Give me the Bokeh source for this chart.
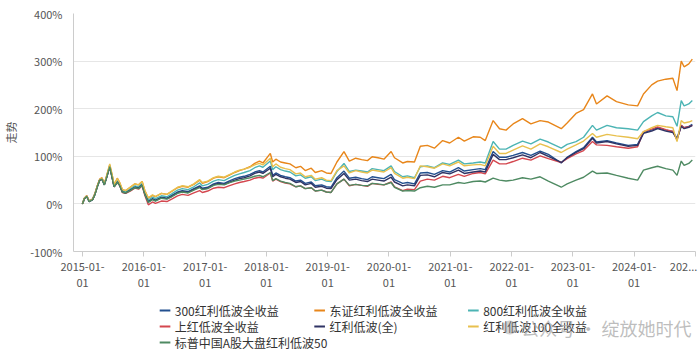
import pandas as pd
from bokeh.plotting import figure
from bokeh.layouts import column
from bokeh.models import FixedTicker, Range1d
from bokeh.core.properties import value
from bokeh.embed import file_html
from bokeh.resources import INLINE

dates = ["2014-12-31", "2015-01-12", "2015-01-26", "2015-02-09", "2015-03-02", "2015-03-16",
         "2015-03-30", "2015-04-13", "2015-04-27", "2015-05-11", "2015-05-25", "2015-06-12",
         "2015-06-30", "2015-07-08", "2015-07-27", "2015-08-10", "2015-08-26", "2015-09-15",
         "2015-10-12", "2015-11-09", "2015-12-01", "2015-12-22", "2016-01-07", "2016-01-28",
         "2016-02-22", "2016-03-10", "2016-04-15", "2016-05-18", "2016-06-15", "2016-07-20",
         "2016-08-17", "2016-09-21", "2016-10-25", "2016-11-29", "2016-12-15", "2017-01-16",
         "2017-02-20", "2017-03-20", "2017-04-24", "2017-05-22", "2017-06-26", "2017-07-24",
         "2017-08-21", "2017-09-25", "2017-10-23", "2017-11-20", "2017-12-11", "2018-01-24",
         "2018-02-07", "2018-02-26", "2018-03-26", "2018-04-23", "2018-05-21", "2018-06-25",
         "2018-07-23", "2018-08-20", "2018-09-25", "2018-10-19", "2018-11-26", "2018-12-24",
         "2019-01-21", "2019-02-25", "2019-04-08", "2019-05-10", "2019-06-17", "2019-07-22",
         "2019-08-26", "2019-09-23", "2019-10-28", "2019-12-02", "2020-01-14", "2020-02-03",
         "2020-03-23", "2020-04-20", "2020-06-01", "2020-07-06", "2020-08-17", "2020-09-28",
         "2020-11-16", "2020-12-28", "2021-02-18", "2021-03-25", "2021-05-17", "2021-06-28",
         "2021-07-28", "2021-09-13", "2021-10-21", "2021-11-29", "2022-01-10", "2022-03-07",
         "2022-04-26", "2022-06-20", "2022-08-08", "2022-10-24", "2022-11-28", "2023-01-20",
         "2023-03-06", "2023-04-28", "2023-05-22", "2023-07-24", "2023-09-18", "2023-11-27",
         "2024-01-22", "2024-02-26", "2024-04-15", "2024-05-20", "2024-07-08", "2024-08-19",
         "2024-09-13", "2024-10-08", "2024-10-25", "2024-11-22", "2024-12-13"]

# cumulative return, %
s300 = [0, 11, 16, 5, 9, 21, 37, 50, 53, 41, 57, 80, 50, 37, 47, 40, 26, 24, 30, 36, 34, 41, 22, 5,
        11, 8, 14, 12, 18, 25, 28, 26, 32, 38, 33, 35, 42, 45, 43, 48, 53, 56, 58, 62, 67, 70, 67, 79,
        60, 65, 60, 57, 55, 48, 50, 43, 46, 38, 40, 36, 35, 55, 69, 54, 56, 53, 51, 57, 55, 53, 62, 51,
        43, 45, 42, 65, 66, 62, 70, 67, 76, 69, 72, 74, 72, 110, 98, 98, 102, 108, 102, 111, 104, 86,
        98, 110, 118, 140, 130, 133, 128, 123, 125, 150, 155, 160, 155, 152, 138, 165, 160, 163, 167]
dz = [0, 12, 17, 6, 10, 22, 38, 52, 55, 42, 60, 82, 55, 40, 54, 45, 30, 28, 35, 42, 40, 47, 28, 12,
      18, 15, 22, 20, 26, 34, 37, 35, 41, 50, 43, 47, 54, 57, 55, 60, 66, 70, 73, 78, 85, 90, 86, 106,
      88, 94, 88, 86, 84, 76, 79, 70, 75, 66, 70, 65, 64, 88, 110, 90, 96, 93, 91, 99, 97, 94, 110, 97,
      86, 89, 88, 121, 123, 117, 133, 128, 140, 132, 141, 140, 133, 175, 158, 155, 168, 179, 168, 175,
      172, 158, 170, 190, 198, 231, 210, 227, 215, 208, 206, 231, 250, 258, 262, 264, 238, 300, 288,
      294, 304]
s800 = [0, 12, 16, 6, 10, 21, 37, 50, 53, 41, 58, 80, 52, 38, 49, 42, 27, 25, 31, 38, 36, 43, 24, 8,
        14, 11, 17, 15, 21, 29, 32, 30, 36, 44, 38, 41, 48, 51, 49, 54, 60, 63, 66, 70, 76, 80, 77, 90,
        72, 78, 72, 69, 67, 59, 61, 54, 57, 49, 52, 48, 47, 68, 85, 68, 71, 69, 67, 74, 72, 70, 80, 68,
        57, 59, 55, 78, 80, 76, 86, 83, 92, 84, 86, 88, 86, 131, 115, 115, 123, 132, 126, 136, 130, 117,
        125, 131, 140, 165, 155, 165, 160, 158, 155, 173, 185, 192, 185, 183, 163, 217, 206, 210, 217]
sh = [0, 12, 17, 6, 10, 21, 37, 51, 53, 41, 57, 79, 50, 36, 45, 39, 24, 22, 27, 33, 31, 38, 18, -2,
      4, 1, 6, 5, 10, 17, 20, 18, 23, 28, 24, 27, 33, 35, 34, 38, 42, 45, 47, 50, 54, 56, 54, 65,
      48, 52, 47, 44, 42, 36, 38, 32, 34, 27, 29, 25, 24, 42, 52, 38, 41, 39, 37, 43, 41, 40, 46, 36,
      28, 31, 30, 48, 52, 50, 58, 55, 62, 58, 64, 66, 63, 92, 84, 84, 89, 96, 92, 101, 95, 87,
      95, 105, 112, 131, 124, 123, 120, 117, 120, 152, 157, 162, 156, 152, 134, 165, 160, 162, 165]
hl = [0, 11, 15, 5, 9, 20, 36, 49, 52, 40, 56, 78, 49, 36, 46, 39, 25, 23, 29, 35, 33, 40, 21, 4,
      10, 7, 13, 11, 16, 23, 26, 24, 30, 36, 31, 33, 40, 43, 41, 45, 50, 53, 55, 59, 64, 67, 64, 75,
      57, 62, 57, 54, 52, 45, 47, 40, 43, 35, 37, 33, 32, 51, 64, 50, 52, 49, 47, 52, 50, 48, 56, 46,
      38, 40, 38, 60, 61, 57, 66, 63, 71, 64, 67, 69, 67, 104, 93, 93, 97, 103, 97, 108, 100, 87,
      97, 108, 116, 138, 128, 131, 126, 121, 123, 148, 153, 158, 153, 150, 136, 163, 158, 161, 165]
h100 = [0, 12, 17, 6, 10, 22, 38, 51, 54, 42, 60, 84, 55, 40, 53, 45, 30, 28, 35, 42, 40, 47, 28, 13,
        19, 16, 22, 20, 27, 35, 38, 36, 42, 51, 45, 48, 55, 58, 56, 61, 67, 71, 73, 77, 82, 85, 82, 96,
        78, 84, 77, 74, 72, 63, 65, 57, 60, 52, 55, 50, 49, 70, 80, 65, 70, 67, 65, 71, 69, 67, 76, 64,
        54, 56, 53, 80, 78, 75, 84, 80, 88, 80, 82, 83, 80, 121, 106, 106, 113, 122, 115, 126, 120, 108,
        115, 124, 132, 148, 140, 146, 143, 140, 137, 152, 160, 165, 162, 160, 131, 175, 170, 172, 175]
sp50 = [0, 11, 16, 5, 9, 20, 36, 50, 52, 40, 56, 78, 49, 36, 45, 39, 25, 23, 28, 34, 32, 39, 20, 3,
        9, 6, 12, 10, 15, 22, 25, 23, 29, 34, 30, 32, 39, 41, 40, 44, 48, 50, 52, 55, 58, 60, 57, 66,
        49, 53, 48, 45, 43, 36, 38, 32, 34, 27, 29, 25, 24, 42, 52, 39, 41, 39, 38, 43, 42, 40, 45, 35,
        27, 28, 27, 34, 37, 35, 40, 40, 45, 43, 47, 48, 46, 54, 50, 48, 50, 55, 52, 57, 48, 35,
        42, 50, 56, 69, 64, 65, 60, 54, 50, 71, 76, 79, 74, 71, 60, 90, 81, 85, 92]

names = ["300红利低波全收益", "东证红利低波全收益", "800红利低波全收益", "上红低波全收益",
         "红利低波(全)", "红利低波100全收益", "标普中国A股大盘红利低波50"]
series = [s300, dz, s800, sh, hl, h100, sp50]
colors = ["#23508f", "#e8861a", "#4cb4b4", "#d4474f", "#2f3364", "#e8c04e", "#4e8a62"]

# year ticks (marks) and their labels; the last, truncated label sits left of the end tick
tick_dates = ["2015-01-01", "2016-01-01", "2017-01-01", "2018-01-01", "2019-01-01", "2020-01-01",
              "2021-01-01", "2022-01-01", "2023-01-01", "2024-01-01", "2025-01-01"]
label_dates = ["2015-01-01", "2016-01-01", "2017-01-01", "2018-01-01", "2019-01-01", "2020-01-01",
               "2021-01-01", "2022-01-01", "2023-01-01", "2024-01-01", "2024-10-22"]
tick_labels = ["2015-01-\n01", "2016-01-\n01", "2017-01-\n01", "2018-01-\n01", "2019-01-\n01",
               "2020-01-\n01", "2021-01-\n01", "2022-01-\n01", "2023-01-\n01", "2024-01-\n01",
               "202..."]
y_ticks = [-100, 0, 100, 200, 300, 400]
y_tick_labels = ["-100%", "0%", "100%", "200%", "300%", "400%"]
watermark = "公众号 · 绽放她时代"


def ms(d):
    return float(pd.Timestamp(d).value // 10**6)


FONT = "Noto Sans CJK SC"
GRAY = "#555555"
x = pd.to_datetime(dates)

p = figure(width=700, height=293, x_axis_type="datetime", output_backend="svg",
           toolbar_location=None, min_border_left=64, min_border_right=5,
           min_border_top=13, min_border_bottom=40)
p.x_range = Range1d(ms("2014-11-08"), ms("2025-01-01"))
p.y_range = Range1d(-100, 400)
p.outline_line_color = None

renderers = []
for vals, c in zip(series, colors):
    renderers.append(p.line(x, vals, line_color=c, line_width=1.4))

label_ms = [ms(d) for d in label_dates]
mark_ms = [ms(d) for d in tick_dates]
p.xaxis.ticker = FixedTicker(ticks=label_ms, minor_ticks=mark_ms)
p.xaxis.major_label_overrides = {t: l for t, l in zip(label_ms, tick_labels)}
p.xaxis.axis_line_color = "#cccccc"
p.xaxis.major_tick_line_color = None
p.xaxis.major_tick_out = 5
p.xaxis.major_tick_in = 0
p.xaxis.minor_tick_line_color = "#cccccc"
p.xaxis.minor_tick_out = 5
p.xaxis.minor_tick_in = 0
p.xaxis.major_label_standoff = 1
p.xaxis.major_label_text_font = FONT
p.xaxis.major_label_text_font_size = "11px"
p.xaxis.major_label_text_line_height = 1.05
p.xaxis.major_label_text_color = GRAY
p.xgrid.grid_line_color = None

p.yaxis.ticker = FixedTicker(ticks=y_ticks)
p.yaxis.major_label_overrides = {t: l for t, l in zip(y_ticks, y_tick_labels)}
p.yaxis.axis_line_color = "#cccccc"
p.yaxis.major_tick_line_color = None
p.yaxis.minor_tick_line_color = None
p.yaxis.major_tick_out = 0
p.yaxis.major_label_standoff = 11
p.yaxis.major_label_text_font = FONT
p.yaxis.major_label_text_font_size = "11px"
p.yaxis.major_label_text_color = GRAY
p.yaxis.axis_label = "走势"
p.yaxis.axis_label_text_font = FONT
p.yaxis.axis_label_text_font_size = "11px"
p.yaxis.axis_label_text_font_style = "normal"
p.yaxis.axis_label_text_color = GRAY
p.yaxis.axis_label_standoff = 8
p.ygrid.grid_line_color = "#e6e6e6"

# legend strip below the chart (screen-like coordinates, y downward)
leg = figure(width=700, height=62, x_range=Range1d(0, 700), y_range=Range1d(62, 0),
             output_backend="svg", toolbar_location=None, min_border=0)
leg.axis.visible = False
leg.grid.visible = False
leg.outline_line_color = None

col_x = [97, 271, 444]
row_y = [17, 33, 49]
for i, (name, c) in enumerate(zip(names, colors)):
    cx = col_x[i % 3]
    ry = row_y[i // 3]
    leg.segment(x0=cx, y0=ry, x1=cx + 12, y1=ry, line_color=c, line_width=2)
    leg.text(x=[cx + 17], y=[ry], text=[name], text_font=value(FONT), text_font_size="12px",
             text_color="#333333", text_baseline="middle", text_align="left")

leg.circle(x=[491], y=[row_y[1] + 1], radius=8, fill_color="#9a9a9a", fill_alpha=0.45,
           line_color=None)
leg.text(x=[504], y=[row_y[1] + 1], text=[watermark], text_font=value(FONT),
         text_font_size="18px", text_color="#a8a8a8", text_alpha=0.75,
         text_baseline="middle", text_align="left")

layout = column(p, leg, spacing=0)
open("out.html", "w").write(file_html(layout, INLINE))
